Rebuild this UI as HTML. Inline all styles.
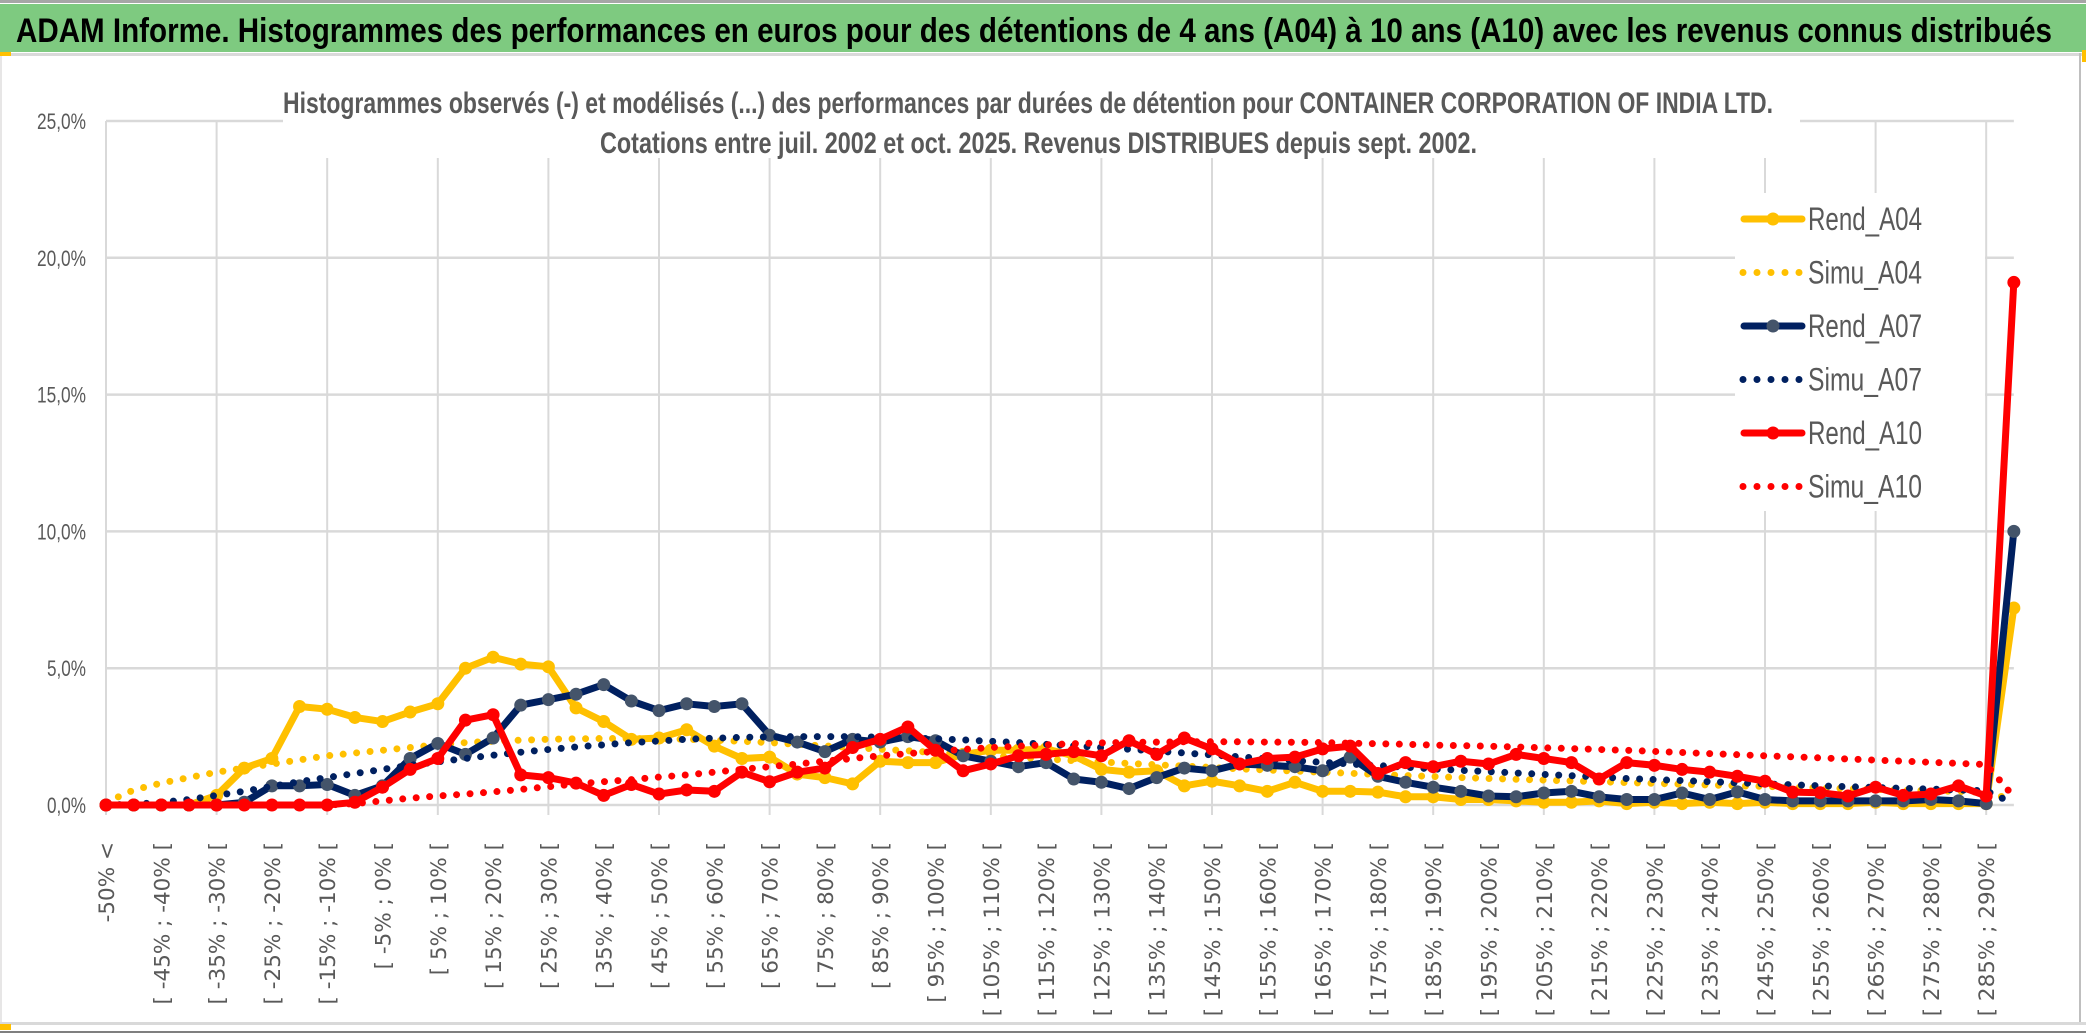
<!DOCTYPE html>
<html><head><meta charset="utf-8"><style>
html,body{margin:0;padding:0;background:#fff;}
svg{display:block;}
</style></head><body>
<svg width="2086" height="1033" viewBox="0 0 2086 1033" xmlns="http://www.w3.org/2000/svg" id="chart">
<rect x="0" y="0" width="2086" height="1033" fill="#fff"/>
<rect x="0" y="0" width="2086" height="3" fill="#A6A6A6"/>
<rect x="0" y="4" width="2086" height="48" fill="#7ECA80"/>
<text x="16" y="42" font-family="Liberation Sans, sans-serif" font-weight="bold" font-size="34" fill="#000" textLength="2036" lengthAdjust="spacingAndGlyphs">ADAM Informe. Histogrammes des performances en euros pour des détentions de 4 ans (A04) à 10 ans (A10) avec les revenus connus distribués</text>
<rect x="0" y="53" width="2086" height="3" fill="#D9D9D9"/>
<rect x="0" y="52" width="11" height="4" fill="#FFC000"/>
<rect x="2079" y="53" width="2" height="970" fill="#BFBFBF"/>
<rect x="2082" y="50" width="4" height="12" fill="#FFC000"/>
<rect x="0" y="56" width="2" height="970" fill="#E7E6E6"/>
<rect x="0" y="1022" width="2086" height="3" fill="#D9D9D9"/>
<rect x="0" y="1024" width="11" height="6" fill="#FFC000"/>
<rect x="0" y="1031" width="2086" height="2" fill="#7F7F7F"/>
<g id="grid"></g>
<rect x="283" y="70" width="1517" height="88" fill="#fff"/>
<text x="283" y="113" font-family="Liberation Sans, sans-serif" font-weight="bold" font-size="30" fill="#595959" textLength="1490" lengthAdjust="spacingAndGlyphs">Histogrammes observés (-) et modélisés (...) des performances par durées de détention pour CONTAINER CORPORATION OF INDIA LTD.</text>
<text x="600" y="153" font-family="Liberation Sans, sans-serif" font-weight="bold" font-size="30" fill="#595959" textLength="877" lengthAdjust="spacingAndGlyphs">Cotations entre juil. 2002 et oct. 2025. Revenus DISTRIBUES depuis sept. 2002.</text>
<rect x="1735" y="193" width="250" height="318" fill="#fff"/>
<g id="yaxis"></g>
<g id="xaxis"></g>
<g id="series"></g>
<g id="legend"></g>
</svg>
<script>
const rendA04 = [0,0,0,0,0.35,1.35,1.7,3.6,3.5,3.2,3.05,3.4,3.7,5.0,5.4,5.15,5.05,3.55,3.05,2.4,2.45,2.75,2.15,1.7,1.75,1.13,1.0,0.77,1.6,1.55,1.55,1.85,2.0,2.0,2.05,1.8,1.3,1.2,1.25,0.7,0.87,0.7,0.5,0.83,0.5,0.5,0.47,0.3,0.3,0.2,0.2,0.15,0.1,0.1,0.15,0.05,0.1,0.05,0.1,0.05,0.1,0.05,0.05,0.05,0.1,0.05,0.05,0.05,0.05,7.2];
const simuA04 = [0.1,0.55,0.8,1.0,1.2,1.35,1.5,1.65,1.8,1.9,2.0,2.1,2.2,2.28,2.33,2.37,2.4,2.42,2.43,2.43,2.42,2.4,2.37,2.33,2.28,2.22,2.16,2.1,2.04,1.98,1.92,1.86,1.8,1.74,1.68,1.62,1.57,1.52,1.47,1.42,1.37,1.32,1.28,1.24,1.2,1.16,1.12,1.08,1.04,1.0,0.97,0.94,0.91,0.88,0.85,0.82,0.79,0.76,0.73,0.7,0.68,0.65,0.62,0.6,0.57,0.55,0.52,0.5,0.45,0.2];
const rendA07 = [0,0,0,0,0,0.1,0.7,0.7,0.75,0.35,0.7,1.7,2.25,1.85,2.45,3.65,3.85,4.05,4.4,3.8,3.45,3.7,3.6,3.7,2.55,2.3,1.95,2.4,2.3,2.5,2.35,1.8,1.6,1.4,1.55,0.95,0.83,0.6,1.0,1.35,1.25,1.5,1.45,1.4,1.25,1.75,1.05,0.83,0.65,0.5,0.33,0.3,0.44,0.5,0.3,0.2,0.2,0.44,0.2,0.48,0.2,0.15,0.15,0.15,0.15,0.15,0.2,0.15,0.05,10.0];
const simuA07 = [0,0.03,0.1,0.2,0.35,0.5,0.68,0.85,1.0,1.15,1.3,1.45,1.58,1.7,1.82,1.93,2.03,2.12,2.2,2.28,2.34,2.4,2.44,2.47,2.49,2.5,2.5,2.5,2.48,2.45,2.42,2.38,2.33,2.28,2.22,2.16,2.1,2.04,1.97,1.9,1.83,1.76,1.69,1.62,1.56,1.5,1.44,1.38,1.32,1.27,1.22,1.17,1.12,1.07,1.02,0.97,0.93,0.89,0.85,0.81,0.77,0.74,0.7,0.67,0.64,0.61,0.58,0.55,0.52,0.05];
const rendA10 = [0,0,0,0,0,0,0,0,0,0.1,0.65,1.3,1.7,3.1,3.3,1.1,1.0,0.8,0.35,0.75,0.4,0.55,0.5,1.2,0.85,1.2,1.35,2.1,2.4,2.85,2.0,1.25,1.5,1.8,1.85,1.95,1.8,2.35,1.85,2.45,2.05,1.5,1.7,1.75,2.05,2.15,1.15,1.55,1.4,1.6,1.5,1.85,1.7,1.55,0.95,1.55,1.45,1.3,1.2,1.05,0.87,0.47,0.45,0.33,0.65,0.35,0.4,0.7,0.33,19.1];
const simuA10 = [0,0,0,0,0,0,0,0,0,0.05,0.15,0.25,0.33,0.4,0.48,0.57,0.67,0.77,0.85,0.93,1.02,1.1,1.2,1.3,1.4,1.5,1.6,1.7,1.8,1.88,1.96,2.03,2.1,2.15,2.2,2.24,2.27,2.29,2.3,2.31,2.31,2.31,2.3,2.29,2.28,2.26,2.24,2.22,2.19,2.17,2.15,2.12,2.09,2.06,2.03,2.0,1.96,1.92,1.88,1.84,1.8,1.76,1.72,1.68,1.64,1.6,1.56,1.52,1.48,0.3];
const yTicks = [0,5,10,15,20,25];
const yTickLabels = ["0,0%","5,0%","10,0%","15,0%","20,0%","25,0%"];
const xLabels = ["-50% <"];
for (let k = 2; k <= 68; k += 2) { const lo = -50 + 5*(k-1); xLabels.push("[ " + lo + "% ; " + (lo+5) + "% ["); }

const NS = "http://www.w3.org/2000/svg";
const X0 = 106, DX = 27.65, Y0 = 805, PY = 27.36;
const xs = i => X0 + i*DX;
const ys = v => Y0 - v*PY;
function mk(tag, attrs, parent){ const e=document.createElementNS(NS,tag); for(const k in attrs) e.setAttribute(k,attrs[k]); parent.appendChild(e); return e; }

const grid = document.getElementById('grid');
const N = rendA04.length;
for (let i = 0; i < N; i += 4) {
  const l = mk('line',{x1:xs(i),x2:xs(i),y1:ys(25),y2:Y0+10,stroke:'#D9D9D9','stroke-width':2},grid);
  
  
}
const yaxis = document.getElementById('yaxis');
yTicks.forEach((t,k)=>{
  const l = mk('line',{x1:X0,x2:xs(N-1),y1:ys(t),y2:ys(t),stroke:'#D9D9D9','stroke-width':2.5},grid);
  
  
  const tx = mk('text',{x:86,y:ys(t)+8,'text-anchor':'end','font-family':'Liberation Sans, sans-serif','font-size':22,fill:'#595959',textLength:(yTickLabels[k].length>4?49:39),lengthAdjust:'spacingAndGlyphs'},yaxis);
  tx.textContent = yTickLabels[k];
  
  
});
const xaxis = document.getElementById('xaxis');
xLabels.forEach((lab,k)=>{
  const i = k*2, x = xs(i)+8, y = 842;
  const tx = mk('text',{x:x,y:y,transform:'rotate(-90 '+x+' '+y+')','text-anchor':'end','font-family':'DejaVu Sans, sans-serif','font-size':21.5,fill:'#595959'},xaxis);
  tx.textContent = lab;
  
  
});

const series = document.getElementById('series');
function pts(arr){ return arr.map((v,i)=>xs(i).toFixed(1)+','+ys(v).toFixed(1)).join(' '); }
function dotted(arr,color,name){
  const p = mk('polyline',{points:pts(arr),fill:'none',stroke:color,'stroke-width':7,'stroke-dasharray':'0 13.5','stroke-linecap':'round'},series);
  
  
}
function solid(arr,color,mcolor,name){
  const g = mk('g',{},series);
  
  
  mk('polyline',{points:pts(arr),fill:'none',stroke:color,'stroke-width':7,'stroke-linejoin':'round'},g);
  arr.forEach((v,i)=>{
    const c = mk('circle',{cx:xs(i),cy:ys(v),r:6.5,fill:mcolor},g);
    
    
  });
}
solid(rendA04,'#FFC000','#FFC000','rend-a04-line');
dotted(simuA04,'#FFC000','simu-a04-line');
solid(rendA07,'#002060','#44546A','rend-a07-line');
dotted(simuA07,'#002060','simu-a07-line');
solid(rendA10,'#FF0000','#FF0000','rend-a10-line');
dotted(simuA10,'#FF0000','simu-a10-line');

const legend = document.getElementById('legend');
const legItems = [["Rend_A04",'#FFC000','#FFC000',false],["Simu_A04",'#FFC000',null,true],["Rend_A07",'#002060','#44546A',false],["Simu_A07",'#002060',null,true],["Rend_A10",'#FF0000','#FF0000',false],["Simu_A10",'#FF0000',null,true]];
legItems.forEach((it,k)=>{
  const y = 219 + k*53.5;
  const g = mk('g',{},legend);
  
  
  if (it[3]) {
    mk('line',{x1:1743,x2:1800,y1:y,y2:y,stroke:it[1],'stroke-width':7,'stroke-dasharray':'0 14','stroke-linecap':'round'},g);
  } else {
    mk('line',{x1:1744,x2:1802,y1:y,y2:y,stroke:it[1],'stroke-width':7,'stroke-linecap':'round'},g);
    mk('circle',{cx:1773,cy:y,r:6.5,fill:it[2]},g);
  }
  const t = mk('text',{x:1808,y:y+11,'font-family':'Liberation Sans, sans-serif','font-size':32,fill:'#595959',textLength:114,lengthAdjust:'spacingAndGlyphs'},g);
  t.textContent = it[0];
});
</script>
</body></html>
